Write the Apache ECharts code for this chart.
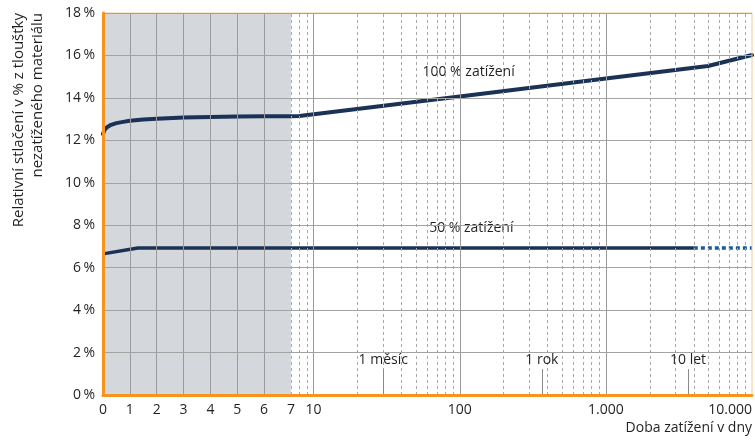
<!DOCTYPE html>
<html lang="cs">
<head>
<meta charset="UTF-8">
<title>Relativní stlačení</title>
<script src="https://cdn.jsdelivr.net/npm/echarts@6.0.0/dist/echarts.min.js"></script>
<style>
  html, body { margin: 0; padding: 0; background: #fff; }
  #chart { width: 755px; height: 441px; }
</style>
</head>
<body>
<div id="chart"></div>
<script>
    // osa x: 0-7 dní lineárně, od 7 dní logaritmicky
    const xLabelDays = [0, 1, 2, 3, 4, 5, 6, 7, 10, 100, 1000, 10000];
    const xLabelText = ['0', '1', '2', '3', '4', '5', '6', '7', '10', '100', '1.000', '10.000'];
    const solidDays = [1, 2, 3, 4, 5, 6, 10, 100, 1000];
    const dashedDays = [7, 8, 9, 20, 30, 40, 50, 60, 70, 80, 90,
        200, 300, 400, 500, 600, 700, 800, 900,
        2000, 3000, 4000, 5000, 6000, 7000, 8000, 9000];

    // 100 % zatížení
    const full_days = [0, 0.05, 0.15, 0.3, 0.5, 0.75, 1, 1.5, 2, 3, 4, 5, 6, 7, 8, 100, 1000, 5000, 10000];
    const full_vals = [12.3, 12.48, 12.62, 12.73, 12.81, 12.87, 12.92, 12.98, 13.02, 13.08, 13.1, 13.12, 13.13, 13.14, 13.15, 14.07, 14.91, 15.5, 16.02];

    // 50 % zatížení (plná čára, pak čárkovaná extrapolace)
    const half_days = [0, 1.3, 7, 100, 1000, 4000];
    const half_vals = [6.65, 6.93, 6.93, 6.93, 6.93, 6.93];
    const halfExt_days = [4000, 10000];
    const halfExt_vals = [6.93, 6.93];

    // značky času
    const markDays = [30, 365, 3650];
    const markText = ['1 měsíc', '1 rok', '10 let'];

    const curveLabels = ['100 % zatížení', '50 % zatížení'];
    const curveLabelPos = [[115, 15.2], [120, 7.88]];

    const K = 146.2 / 26.86;  // px na dekádu / px na den
    function tx(d) {
        return d <= 7 ? d : 7 + (Math.log10(d) - Math.log10(7)) * K;
    }
    const xMax = tx(10000);

    const font = 'Open Sans';
    const txt = '#231f20';
    const orange = '#f7941d';
    const fs = 14;

    function pairs(days, vals) {
        return days.map((d, i) => [tx(d), vals[i]]);
    }

    const chart = echarts.init(document.getElementById('chart'));
    const option = {
        animation: false,
        textStyle: { fontFamily: font },
        grid: {
            left: 103, right: 2, top: 13, bottom: 46, z: 5,
            show: true, borderColor: '#f6c88f', borderWidth: 1
        },
        xAxis: {
            type: 'value',
            z: 6,
            min: 0,
            max: xMax,
            axisLine: { show: true, lineStyle: { color: orange, width: 3 } },
            axisTick: { show: false },
            splitLine: { show: false },
            axisLabel: {
                customValues: xLabelDays.map(tx),
                color: txt,
                fontSize: fs,
                margin: 8,
                alignMaxLabel: 'right',
                formatter: function (v) {
                    let best = 0;
                    xLabelDays.forEach((d, i) => {
                        if (Math.abs(tx(d) - v) < Math.abs(tx(xLabelDays[best]) - v)) best = i;
                    });
                    return xLabelText[best];
                }
            }
        },
        yAxis: {
            type: 'value',
            z: 6,
            min: 0,
            max: 18,
            interval: 2,
            axisLine: { show: true, lineStyle: { color: orange, width: 3 } },
            axisTick: { show: false },
            splitLine: { show: true, lineStyle: { color: '#a3a3a3', width: 1 } },
            axisLabel: { formatter: '{value}\u2009%', color: txt, fontSize: fs, margin: 8 }
        },
        graphic: [
            {
                type: 'text',
                x: 9, y: 13,
                rotation: Math.PI / 2,
                style: {
                    text: 'Relativní stlačení v % z tloušťky\nnezatíženého materiálu',
                    fill: txt, font: '15px "Open Sans"',
                    align: 'right', verticalAlign: 'top', lineHeight: 19
                }
            },
            {
                type: 'text',
                right: 3, top: 421,
                style: { text: 'Doba zatížení v dny', fill: txt, font: fs + 'px "Open Sans"' }
            }
        ],
        series: [
            {
                type: 'line', data: [], z: 0, silent: true,
                markArea: {
                    silent: true,
                    itemStyle: { color: '#d4d7db' },
                    data: [[{ xAxis: 0 }, { xAxis: 7 }]]
                }
            },
            {
                type: 'line', data: [], z: 1, silent: true,
                markLine: {
                    silent: true, symbol: 'none', label: { show: false },
                    data: solidDays.map(d => ({ xAxis: tx(d), lineStyle: { color: '#9b9b9b', width: 1, type: 'solid' } }))
                        .concat(dashedDays.map(d => ({ xAxis: tx(d), lineStyle: { color: '#a8a8a8', width: 1, type: [3, 3] } })))
                }
            },
            {
                type: 'line', data: [], z: 1, silent: true,
                markLine: {
                    silent: true, symbol: 'none',
                    lineStyle: { color: '#8a8a8a', width: 1, type: 'solid' },
                    label: { show: true, position: 'end', distance: 2, color: txt, fontSize: fs, fontFamily: font },
                    data: markDays.map((d, i) => [
                        { coord: [tx(d), 0] },
                        { coord: [tx(d), 1.22], label: { formatter: markText[i] } }
                    ])
                }
            },
            {
                name: '100 %', type: 'line', z: 3,
                data: pairs(full_days, full_vals),
                showSymbol: false, smooth: false,
                lineStyle: { color: '#1a3256', width: 4, cap: 'round', join: 'round' }
            },
            {
                name: '50 %', type: 'line', z: 3,
                data: pairs(half_days, half_vals),
                showSymbol: false,
                lineStyle: { color: '#1a3256', width: 3.5, join: 'round' }
            },
            {
                name: '50 % ext', type: 'line', z: 3,
                data: pairs(halfExt_days, halfExt_vals),
                showSymbol: false,
                lineStyle: { color: '#1d5a98', width: 3.5, type: [4, 3] }
            },
            {
                type: 'scatter', z: 4, symbolSize: 0, silent: true,
                itemStyle: { opacity: 1 },
                data: curveLabelPos.map((p, i) => [tx(p[0]), p[1], curveLabels[i]]),
                label: {
                    show: true, position: 'inside', color: txt, fontSize: fs, fontFamily: font,
                    formatter: p => p.value[2]
                }
            }
        ]
    };
    chart.setOption(option);
</script>
</body>
</html>
